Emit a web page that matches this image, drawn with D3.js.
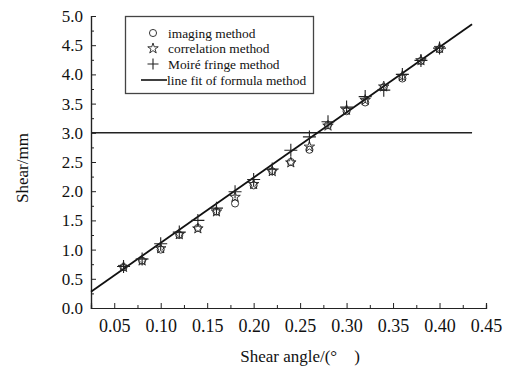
<!DOCTYPE html>
<html>
<head>
<meta charset="utf-8">
<script src="https://cdn.jsdelivr.net/npm/d3@7"></script>
<style>
  body { margin: 0; background: #fff; }
  svg text { font-family: "Liberation Serif", "DejaVu Serif", serif !important; fill: #111; }
</style>
</head>
<body>
<div id="chart"></div>
<script>
// shear angle (deg) for every measurement
const angles = [0.06, 0.08, 0.10, 0.12, 0.14, 0.16, 0.18, 0.20, 0.22,
                0.24, 0.26, 0.28, 0.30, 0.32, 0.34, 0.36, 0.38, 0.40];
const imaging = [0.70, 0.81, 1.00, 1.25, 1.37, 1.65, 1.79, 2.10, 2.34,
                 2.50, 2.71, 3.13, 3.37, 3.52, 3.78, 3.93, 4.23, 4.43];
const correlation = [0.70, 0.81, 1.02, 1.26, 1.36, 1.65, 1.90, 2.12, 2.34,
                     2.49, 2.76, 3.12, 3.39, 3.56, 3.79, 3.97, 4.24, 4.45];
const moire = [0.71, 0.84, 1.10, 1.30, 1.50, 1.71, 1.99, 2.20, 2.38,
               2.70, 2.93, 3.19, 3.44, 3.62, 3.73, 4.00, 4.24, 4.45];
// line fit of formula method: shear = k * angle
const fitSlope = 11.17;
const fitRange = [0.025, 0.435];
const threshold = 3.0;
const xTicks = [0.05, 0.10, 0.15, 0.20, 0.25, 0.30, 0.35, 0.40, 0.45];
const yTicks = [0.0, 0.5, 1.0, 1.5, 2.0, 2.5, 3.0, 3.5, 4.0, 4.5, 5.0];
const legendItems = ["imaging method", "correlation method", "Moiré fringe method", "line fit of formula method"];

const width = 508, height = 372;
const margin = {left: 91, right: 22, top: 16, bottom: 64};
const serif = "'Liberation Serif', 'DejaVu Serif', serif";

const svg = d3.select("#chart").append("svg")
    .attr("width", width)
    .attr("height", height)
    .style("font-family", serif);

const x = d3.scaleLinear([0.025, 0.45], [margin.left, width - margin.right]);
const y = d3.scaleLinear([0, 5], [height - margin.bottom, margin.top]);

// axes with inward ticks
const xMinor = d3.range(0.075, 0.45, 0.05);
const yMinor = d3.range(0.25, 5, 0.5);

svg.append("g").attr("transform", `translate(0,${y(0)})`)
    .call(d3.axisBottom(x).tickValues(xMinor).tickSize(-3).tickFormat(""));
const gx2 = svg.append("g").attr("transform", `translate(0,${y(0)})`)
    .call(d3.axisBottom(x).tickValues(xTicks).tickSize(-5).tickPadding(11)
        .tickFormat(d3.format(".2f")));
gx2.attr("font-family", serif).attr("font-size", 18);

svg.append("g").attr("transform", `translate(${x(0.025)},0)`)
    .call(d3.axisLeft(y).tickValues(yMinor).tickSize(-3).tickFormat(""));
const gy2 = svg.append("g").attr("transform", `translate(${x(0.025)},0)`)
    .call(d3.axisLeft(y).tickValues(yTicks).tickSize(-5).tickPadding(8)
        .tickFormat(d3.format(".1f")));
gy2.attr("font-family", serif).attr("font-size", 17);

svg.selectAll(".domain").attr("stroke", "#222").attr("stroke-width", 1.2);
svg.selectAll(".tick line").attr("stroke", "#222");

// axis titles
svg.append("text")
    .attr("x", 300).attr("y", 362)
    .attr("text-anchor", "middle")
    .attr("font-size", 17)
    .text("Shear angle/(°\u2003)");
svg.append("text")
    .attr("transform", `translate(28,168) rotate(-90)`)
    .attr("text-anchor", "middle")
    .attr("font-size", 17)
    .text("Shear/mm");

// threshold line and fit line
svg.append("line")
    .attr("x1", x(fitRange[0])).attr("x2", x(fitRange[1]))
    .attr("y1", y(threshold)).attr("y2", y(threshold))
    .attr("stroke", "#222").attr("stroke-width", 1.5);
svg.append("line")
    .attr("x1", x(fitRange[0])).attr("x2", x(fitRange[1]))
    .attr("y1", y(fitSlope * fitRange[0])).attr("y2", y(fitSlope * fitRange[1]))
    .attr("stroke", "#111").attr("stroke-width", 1.8);

// markers
const circleSym = d3.symbol(d3.symbolCircle, 40);
const starSym = d3.symbol(d3.symbolStar, 34);
const plusPath = s => `M${-s},0H${s}M0,${-s}V${s}`;

function drawSeries(vals, path, style) {
    svg.append("g").selectAll("path")
        .data(angles.map((a, i) => [a, vals[i]]))
        .join("path")
        .attr("transform", d => `translate(${x(d[0])},${y(d[1])})`)
        .attr("d", path)
        .attr("fill", "none")
        .attr("stroke", "#222")
        .attr("stroke-width", style);
}
drawSeries(imaging, circleSym, 0.9);
drawSeries(correlation, starSym, 0.9);
drawSeries(moire, plusPath(6.5), 1.1);

// legend
const lg = svg.append("g");
lg.append("rect")
    .attr("x", 125.5).attr("y", 16.5).attr("width", 188).attr("height", 77)
    .attr("fill", "#fff").attr("stroke", "#444").attr("stroke-width", 1.3);
const rowsY = [33, 48.5, 64, 80];
const syms = [circleSym, starSym, plusPath(5.5)];
syms.forEach((s, i) => {
    lg.append("path")
        .attr("transform", `translate(153,${rowsY[i]})`)
        .attr("d", s)
        .attr("fill", "none").attr("stroke", "#222")
        .attr("stroke-width", i === 2 ? 1.1 : 0.9);
});
lg.append("line")
    .attr("x1", 141).attr("x2", 167).attr("y1", rowsY[3]).attr("y2", rowsY[3])
    .attr("stroke", "#111").attr("stroke-width", 1.6);
legendItems.forEach((t, i) => {
    lg.append("text")
        .attr("x", i === 3 ? 167 : 168)
        .attr("y", rowsY[i])
        .attr("dy", "0.35em")
        .attr("font-size", 13.4)
        .text(t);
});
</script>
</body>
</html>
